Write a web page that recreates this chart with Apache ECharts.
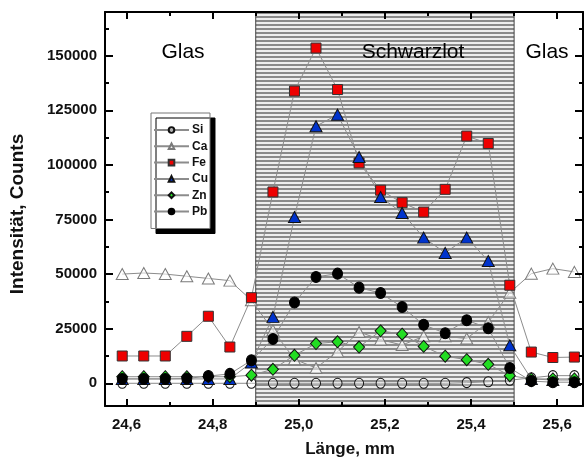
<!DOCTYPE html>
<html>
<head>
<meta charset="utf-8">
<script src="https://cdn.jsdelivr.net/npm/echarts@6/dist/echarts.min.js"></script>
<style>
html,body{margin:0;padding:0;background:#fff;}
#chart{width:586px;height:461px;}
</style>
</head>
<body>
<div id="chart"></div>
<script>
// ---- data ----
const positions = [24.59,24.64,24.69,24.74,24.79,24.84,24.89,24.94,24.99,25.04,25.09,25.14,25.19,25.24,25.29,25.34,25.39,25.44,25.49,25.54,25.59,25.64];
const si = [0,0,0,0,0,0,0,0,0,0,0,0,0,0,0,0,300,700,1400,2500,3500,3500];
const ca = [50000,50500,50000,49000,48000,47000,38000,24300,11000,7000,14500,23500,20000,17500,21500,21500,20500,28000,41500,50200,52500,51000];
const fe = [12500,12500,12500,21500,30700,16600,39200,87600,133800,153500,134500,100900,88400,82700,78400,88800,113200,109800,44900,14300,11800,12000];
const cu = [2000,2000,2000,2000,2000,2000,9500,30400,76100,117700,123000,103600,85300,78000,66700,59700,66700,56000,17400,2000,1500,1500];
const zn = [3000,3000,3000,3000,3000,3000,3700,6400,12800,18200,19000,16600,24000,22500,16900,12400,10800,8700,3500,2000,2000,2000];
const pb = [2000,2000,2000,2200,3300,4300,10500,20300,37000,48700,50200,43800,41300,34900,26800,22900,28900,25200,7000,1000,500,500];
const xMajorTicks = [24.6,24.8,25.0,25.2,25.4,25.6];
const xMinorTicks = [24.7,24.9,25.1,25.3,25.5];
const yMajorTicks = [0,25000,50000,75000,100000,125000,150000];
const yMinorTicks = [12500,37500,62500,87500,112500,137500,162500];
const shadedRange = [24.9, 25.5];
const regionLabels = ['Glas','Schwarzlot','Glas'];

function pairs(ys){ return positions.map((x,i)=>[x, ys[i]]); }

// hatch pattern
const pc = document.createElement('canvas');
pc.width = 4; pc.height = 4;
const pctx = pc.getContext('2d');
pctx.fillStyle = '#eeeeee'; pctx.fillRect(0,0,4,4);
pctx.fillStyle = '#8a8a8a'; pctx.fillRect(0,0,4,2);

const FONT = '"Liberation Sans", Arial, sans-serif';
const X_MIN = 24.55, X_MAX = 25.66, Y_MIN = -10400, Y_MAX = 170000;
const gridRect = {left:105, top:12, right:3, bottom:55};

const lineStyle = {color:'#8c8c8c', width:1};

function mkSeries(name, data, symbol, size, fill, border, extra){
  return Object.assign({
    name, type:'line', data: pairs(data), symbol, symbolSize:size,
    xAxisIndex:0, yAxisIndex:0,
    lineStyle: lineStyle,
    itemStyle:{color:fill, borderColor:border, borderWidth:1, opacity:1},
    emphasis:{disabled:true}, animation:false
  }, extra||{});
}

function xAx(pos, vals, len, labels, gridIndex, line){
  return {
    type:'value', gridIndex, position:pos, min:X_MIN, max:X_MAX, z:10,
    axisLine:{show:line, onZero:false, lineStyle:{color:'#000', width:2}},
    axisTick:{show:true, inside:true, length:len, customValues:vals, lineStyle:{color:'#000', width:2}},
    axisLabel:{show:labels, customValues:vals, margin:11, color:'#111',
      fontFamily:FONT, fontWeight:'bold', fontSize:15,
      formatter:v=>v.toFixed(1).replace('.',',')},
    splitLine:{show:false}
  };
}
function yAx(pos, vals, len, labels, gridIndex, line){
  return {
    type:'value', gridIndex, position:pos, min:Y_MIN, max:Y_MAX, z:10,
    axisLine:{show:line, onZero:false, lineStyle:{color:'#000', width:2}},
    axisTick:{show:true, inside:true, length:len, customValues:vals, lineStyle:{color:'#000', width:2}},
    axisLabel:{show:labels, customValues:vals, margin:8, color:'#111',
      fontFamily:FONT, fontWeight:'bold', fontSize:15, formatter:v=>String(v)},
    splitLine:{show:false}
  };
}

const chart = echarts.init(document.getElementById('chart'), null, {renderer:'canvas'});
chart.setOption({
  animation:false,
  backgroundColor:'#fff',
  grid:[Object.assign({}, gridRect), Object.assign({}, gridRect)],
  xAxis:[
    xAx('bottom', xMajorTicks, 7, true, 0, true),
    xAx('top', xMajorTicks, 7, false, 0, true),
    xAx('bottom', xMinorTicks, 4, false, 1, false),
    xAx('top', xMinorTicks, 4, false, 1, false)
  ],
  yAxis:[
    yAx('left', yMajorTicks, 8, true, 0, true),
    yAx('right', yMajorTicks, 8, false, 0, true),
    yAx('left', yMinorTicks, 4, false, 1, false),
    yAx('right', yMinorTicks, 4, false, 1, false)
  ],
  legend:{
    orient:'vertical', left:151, top:113,
    padding:[11,2,11,2], itemWidth:35, itemHeight:7, itemGap:4.3,
    backgroundColor:'#fff', borderColor:'#777', borderWidth:1,
    shadowColor:'#000', shadowBlur:0, shadowOffsetX:5, shadowOffsetY:5,
    textStyle:{fontFamily:FONT, fontWeight:'bold', fontSize:12, color:'#111', padding:[0,0,0,-2]},
    data:['Si','Ca','Fe','Cu','Zn','Pb']
  },
  series:[
    mkSeries('Si', si, 'circle', [9,10], 'rgba(255,255,255,0.3)', '#111', {
      markArea:{silent:true, z:1,
        itemStyle:{color:{image:pc, repeat:'repeat'}, borderColor:'#444', borderWidth:1},
        data:[[{xAxis:shadedRange[0]},{xAxis:shadedRange[1]}]]}
    }),
    mkSeries('Ca', ca, 'triangle', [12,11], 'rgba(255,255,255,0.55)', '#7a7a7a'),
    mkSeries('Fe', fe, 'rect', [10,10], '#ee0000', '#333'),
    mkSeries('Cu', cu, 'triangle', [12,11], '#0033cc', '#111'),
    mkSeries('Zn', zn, 'diamond', [11,12], '#22dd22', '#111'),
    mkSeries('Pb', pb, 'circle', [10,11], '#000', '#000')
  ],
  graphic:[
    {type:'text', x:183, y:52, z:100, style:{text:regionLabels[0], font:'21px '+FONT, fill:'#000', textAlign:'center', textVerticalAlign:'middle'}},
    {type:'text', x:413, y:52, z:100, style:{text:regionLabels[1], font:'21px '+FONT, fill:'#000', textAlign:'center', textVerticalAlign:'middle'}},
    {type:'text', x:547, y:52, z:100, style:{text:regionLabels[2], font:'21px '+FONT, fill:'#000', textAlign:'center', textVerticalAlign:'middle'}},
    {type:'text', x:18, y:214, rotation:Math.PI/2, z:100, style:{text:'Intensität, Counts', font:'bold 19px '+FONT, fill:'#111', textAlign:'center', textVerticalAlign:'middle'}},
    {type:'text', x:350, y:449, z:100, style:{text:'Länge, mm', font:'bold 17px '+FONT, fill:'#111', textAlign:'center', textVerticalAlign:'middle'}}
  ]
});
</script>
</body>
</html>
